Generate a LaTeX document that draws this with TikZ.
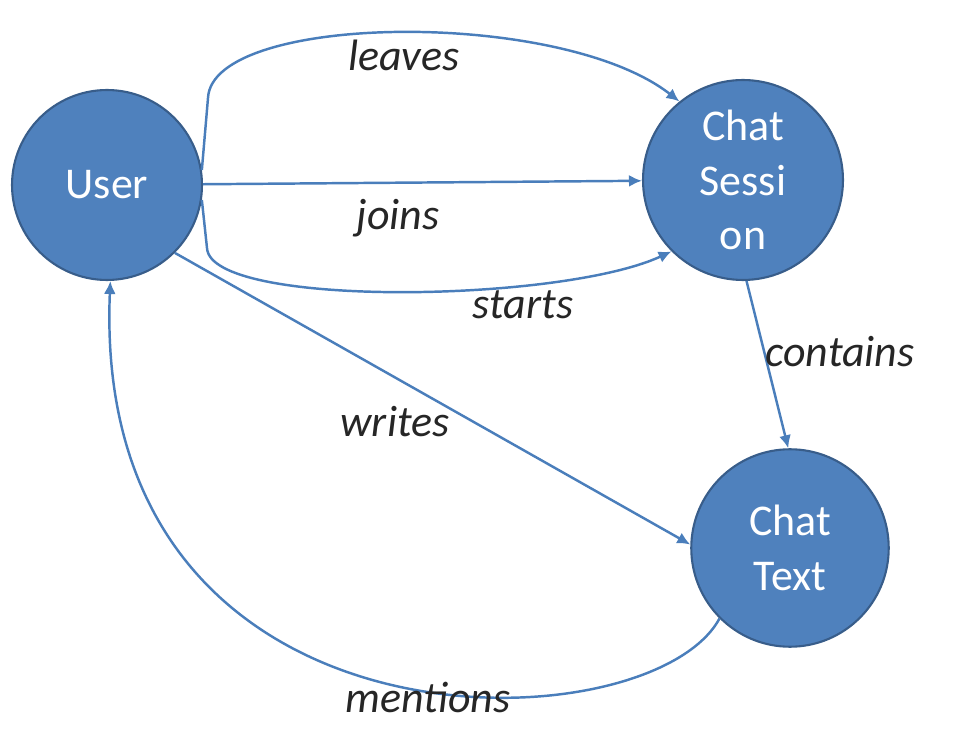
\documentclass[tikz,border=0pt]{standalone}
\usepackage{fontspec}
\setmainfont{Carlito}
\usetikzlibrary{arrows.meta}
\definecolor{ballfill}{HTML}{4F81BD}
\definecolor{balledge}{HTML}{385D8A}
\definecolor{linkblue}{HTML}{4A7EBB}
\tikzset{
  ball/.style={circle,fill=ballfill,draw=balledge,line width=1.2pt,inner sep=0pt,
    text=white,align=center,font=\fontsize{25}{31}\selectfont},
  link/.style={draw=linkblue,line width=1.4pt,-{Latex[length=0.26cm,width=0.24cm]}},
  rel/.style={font=\fontsize{25}{31}\selectfont\itshape,text=black!85}
}
\begin{document}
\begin{tikzpicture}[x=0.02cm,y=0.02cm]
\useasboundingbox (0,0) rectangle (971,748);

\node[ball,minimum size=3.8cm] (user) at (107,563) {User};
\node[ball,minimum size=4cm] (sess) at (743,568) {Chat\\Sessi\\on};
\node[ball,minimum size=3.95cm] (text) at (790,200) {Chat\\Text};

\draw[link] (user.9) -- (208,650) .. controls (212,735) and (560,740) .. (sess.129);
\draw[link] (user) -- (sess);
\draw[link] (user.-9) -- (207,500) .. controls (210,440) and (560,445) .. (sess.225);
\draw[link] (user.-45) -- (text.178);
\draw[link] (sess.-88) -- (text.91);
\draw[link] (text.225) .. controls (650,0) and (90,-20) .. (user.-88);

\node[rel] (lleaves) at (404,693) {leaves};
\node[rel] (ljoins) at (398,530) {joins};
\node[rel] (lstarts) at (523,443) {starts};
\node[rel] (lwrites) at (395,326) {writes};
\node[rel] (lcontains) at (840,396) {contains};
\node[rel] (lmentions) at (428,51) {mentions};
\end{tikzpicture}
\end{document}
